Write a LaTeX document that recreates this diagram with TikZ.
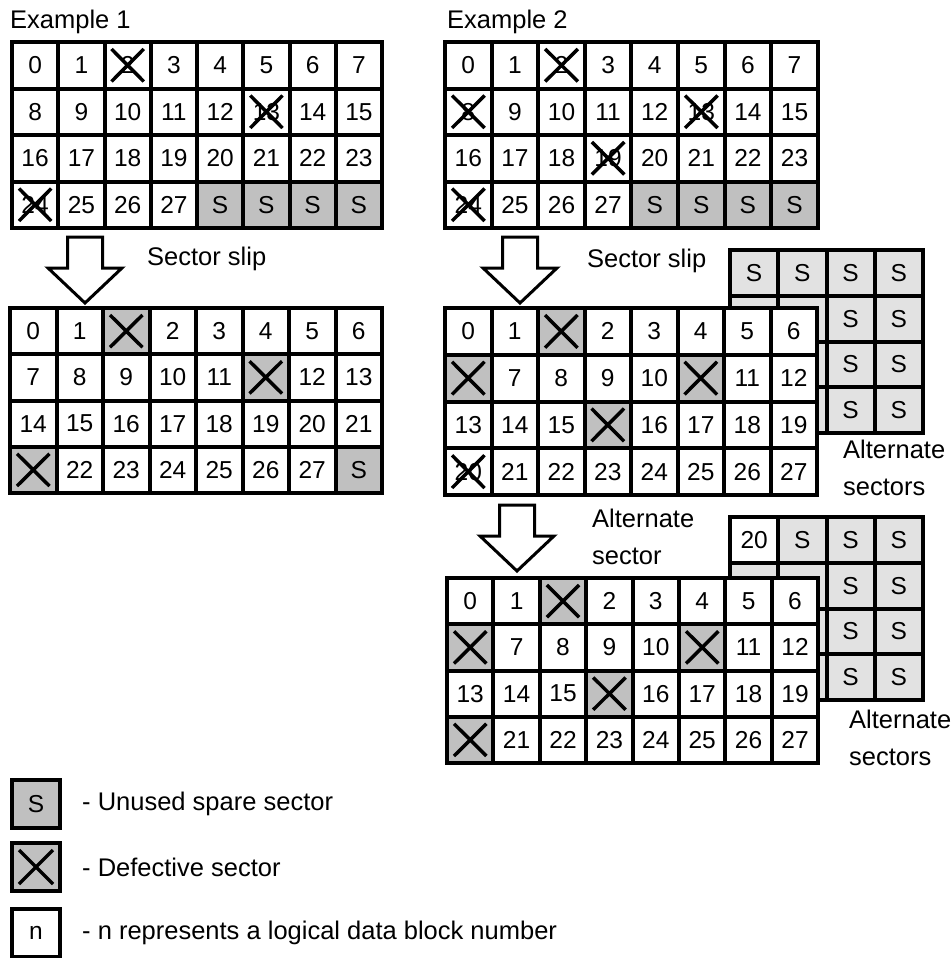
\documentclass[tikz,border=0pt]{standalone}
\usepackage{fontspec}
\setmainfont{Liberation Sans}
\usetikzlibrary{positioning}

\definecolor{sparegray}{RGB}{192,192,192}
\definecolor{altgray}{RGB}{226,226,226}

\tikzset{
  blk/.style={draw, line width=4pt, fill=white, inner sep=0pt, outer sep=0pt,
    font=\fontsize{24.5}{24.5}\selectfont},
  hit/.style={blk, path picture={
    \draw[line width=3.5pt]
      ([shift={(7,7)}]path picture bounding box.north west) -- ([shift={(-7,-7)}]path picture bounding box.south east)
      ([shift={(-7,7)}]path picture bounding box.north east) -- ([shift={(7,-7)}]path picture bounding box.south west);}},
  bad/.style={hit, fill=sparegray},
  spare/.style={blk, fill=sparegray},
  alt/.style={blk, fill=altgray},
  altgap/.style={alt},
  key/.style={minimum size=48pt, line width=4.5pt},
  lbl/.style={inner sep=0pt, font=\fontsize{25.5}{37}\selectfont, align=left},
  bigarrow/.pic={
    \draw[line width=3pt, fill=white] (-17.5,0) -- (17.5,0) -- (17.5,31) -- (37,31)
      -- (0,66) -- (-37,31) -- (-17.5,31) -- cycle;}
}

% grid of sectors: name, left, top, cell width, cell height, rows
\newcommand\sectorgrid[6]{%
  \foreach \row [count=\r from 0] in {#6}{%
    \foreach \t/\k [count=\c from 0] in \row{%
      \node[\k, minimum width=#4pt, minimum height=#5pt] (#1-\r-\c)
        at ({#2+(\c+0.5)*#4},{#3+(\r+0.5)*#5}) {\t};
    }%
  }%
}

\begin{document}
\begin{tikzpicture}[x=1pt,y=-1pt]
\useasboundingbox (0,0) rectangle (952,958);
% Example 1
\node[lbl, anchor=west] (ex1) at (10,22) {Example 1};
\sectorgrid{topA}{12}{42}{46.25}{46.5}{
  {0/blk,1/blk,2/hit,3/blk,4/blk,5/blk,6/blk,7/blk},
  {8/blk,9/blk,10/blk,11/blk,12/blk,13/hit,14/blk,15/blk},
  {16/blk,17/blk,18/blk,19/blk,20/blk,21/blk,22/blk,23/blk},
  {24/hit,25/blk,26/blk,27/blk,S/spare,S/spare,S/spare,S/spare}}
\pic at (85,237) {bigarrow};
\node[lbl, anchor=west] (slipA) at (147,259) {Sector slip};
\sectorgrid{botA}{10}{308}{46.5}{46.25}{
  {0/blk,1/blk,{}/bad,2/blk,3/blk,4/blk,5/blk,6/blk},
  {7/blk,8/blk,9/blk,10/blk,11/blk,{}/bad,12/blk,13/blk},
  {14/blk,15/blk,16/blk,17/blk,18/blk,19/blk,20/blk,21/blk},
  {{}/bad,22/blk,23/blk,24/blk,25/blk,26/blk,27/blk,S/spare}}

% Example 2
\node[lbl, anchor=west] (ex2) at (447,22) {Example 2};
\sectorgrid{topB}{445}{42}{46.6}{46.5}{
  {0/blk,1/blk,2/hit,3/blk,4/blk,5/blk,6/blk,7/blk},
  {8/hit,9/blk,10/blk,11/blk,12/blk,13/hit,14/blk,15/blk},
  {16/blk,17/blk,18/blk,19/hit,20/blk,21/blk,22/blk,23/blk},
  {24/hit,25/blk,26/blk,27/blk,S/spare,S/spare,S/spare,S/spare}}
\pic at (520,237) {bigarrow};
\node[lbl, anchor=west] (slipB) at (587,261) {Sector slip};
% alternate sectors behind the slipped track
\sectorgrid{altA}{730}{250}{48.25}{45.75}{
  {S/alt,S/alt,S/alt,S/alt},
  {{}/altgap,{}/altgap,S/alt,S/alt},
  {{}/altgap,{}/altgap,S/alt,S/alt},
  {{}/altgap,{}/altgap,S/alt,S/alt}}
\sectorgrid{midB}{445}{308}{46.5}{46.75}{
  {0/blk,1/blk,{}/bad,2/blk,3/blk,4/blk,5/blk,6/blk},
  {{}/bad,7/blk,8/blk,9/blk,10/blk,{}/bad,11/blk,12/blk},
  {13/blk,14/blk,15/blk,{}/bad,16/blk,17/blk,18/blk,19/blk},
  {20/hit,21/blk,22/blk,23/blk,24/blk,25/blk,26/blk,27/blk}}
\node[lbl, anchor=west] (altlblA) at (843,468) {Alternate\\sectors};
\pic at (517,505) {bigarrow};
\node[lbl, anchor=west] (altlblB) at (592,537) {Alternate\\sector};
\sectorgrid{altB}{730}{517}{48.25}{45.75}{
  {20/blk,S/alt,S/alt,S/alt},
  {{}/altgap,{}/altgap,S/alt,S/alt},
  {{}/altgap,{}/altgap,S/alt,S/alt},
  {{}/altgap,{}/altgap,S/alt,S/alt}}
\sectorgrid{botB}{447}{578}{46.4}{46.25}{
  {0/blk,1/blk,{}/bad,2/blk,3/blk,4/blk,5/blk,6/blk},
  {{}/bad,7/blk,8/blk,9/blk,10/blk,{}/bad,11/blk,12/blk},
  {13/blk,14/blk,15/blk,{}/bad,16/blk,17/blk,18/blk,19/blk},
  {{}/bad,21/blk,22/blk,23/blk,24/blk,25/blk,26/blk,27/blk}}
\node[lbl, anchor=west] (altlblC) at (849,738) {Alternate\\sectors};

% legend
\node[spare, key] (keyS) at (36,804) {S};
\node[bad, key] (keyX) at (36,867) {};
\node[blk, key] (keyN) at (36,933) {n};
\node[lbl, right=22pt of keyS] (txtS) {- Unused spare sector};
\node[lbl, right=22pt of keyX] (txtX) {- Defective sector};
\node[lbl, right=22pt of keyN] (txtN) {- n represents a logical data block number};
\end{tikzpicture}
\end{document}
